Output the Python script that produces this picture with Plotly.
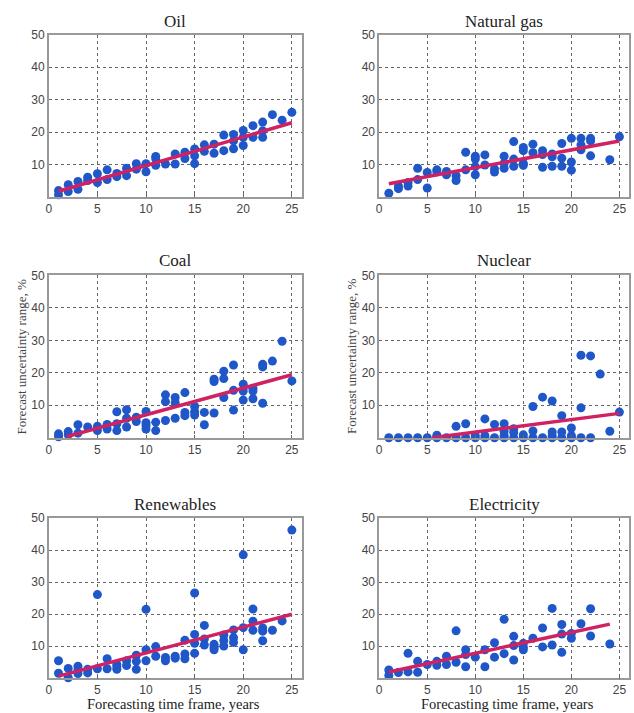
import plotly.graph_objects as go

# ---------------- data ----------------
oil_x = [1,1,2,2,3,3,4,4,5,5,6,6,7,7,8,8,9,9,10,10,11,11,11,12,13,13,14,14,15,15,15,16,16,17,17,18,18,19,19,19,20,20,20,21,21,22,22,22,23,24,25]
oil_y = [2.0,0.7,3.8,1.7,4.8,2.4,6.1,5.1,7.2,4.5,8.4,5.4,7.3,6.3,8.9,6.6,10.3,8.6,10.3,7.8,12.5,11.8,9.8,10.2,13.3,10.2,13.8,11.9,14.8,12.7,10.3,16.1,14.1,16.3,13.5,19.1,14.3,19.3,17.3,14.9,20.5,18.4,15.9,22.0,18.4,23.1,20.4,18.4,25.4,23.7,26.1]
oil_trend_x = [1, 25]
oil_trend_y = [1.8, 22.9]

gas_x = [1,2,2,3,3,4,4,5,5,6,6,7,7,8,8,9,9,10,10,10,10,11,11,12,12,13,13,13,14,14,14,15,15,15,15,16,16,17,17,17,18,18,18,19,19,19,20,20,20,21,21,21,22,22,22,24,25]
gas_y = [1.2,3.4,2.6,4.5,3.4,8.9,5.4,7.6,2.8,8.4,7.8,7.9,6.9,6.6,5.1,13.8,8.4,12.6,11.7,9.4,6.9,13.0,9.9,8.7,7.7,12.6,10.4,8.9,17.1,11.7,9.5,15.3,14.3,10.4,9.8,16.3,13.7,14.3,13.1,9.2,13.3,12.4,9.5,16.5,12.0,9.5,18.1,10.8,8.3,18.1,16.1,14.6,18.1,17.3,12.7,11.5,18.6]
gas_trend_x = [1, 25]
gas_trend_y = [4.1, 17.3]

coal_x = [1,1,2,2,3,3,4,5,5,6,6,7,7,7,8,8,8,9,9,10,10,10,10,11,11,12,12,12,13,13,13,14,14,14,15,15,15,16,16,17,17,17,18,18,18,19,19,19,20,20,20,21,21,21,22,22,22,23,24,25]
coal_y = [1.2,0.3,1.9,0.9,4.0,1.4,3.3,3.5,2.2,4.1,2.7,8.0,4.3,2.2,8.6,6.0,3.3,6.3,5.0,8.1,4.6,3.8,2.7,4.8,2.2,13.2,11.1,5.3,12.4,10.8,6.0,13.9,7.8,6.8,9.6,8.0,7.0,7.8,4.0,18.0,17.3,7.6,20.5,18.2,12.4,22.4,14.6,8.5,16.5,14.4,11.6,15.2,14.4,12.0,22.6,21.8,10.6,23.6,29.7,17.5]
coal_trend_x = [1.8, 25]
coal_trend_y = [0.3, 19.4]

nuc_x = [1,2,3,4,5,6,6,7,8,8,9,9,10,10,11,11,11,12,12,13,13,13,13,14,14,14,15,15,16,16,16,17,17,18,18,18,18,19,19,19,20,20,20,21,21,21,22,22,23,24,25]
nuc_y = [0,0,0,0,0,0,0.8,0,0,3.5,0,4.3,0,0.6,0,0.6,5.8,0,4.1,0,4.3,2.0,0.6,0,2.8,1.6,0,0.9,0,2.1,9.6,0,12.5,0,1.8,11.3,0.6,0,1.8,6.8,0,0.6,3.0,0,9.2,25.4,0,25.2,19.6,2.0,7.9]
nuc_trend_x = [5.5, 25]
nuc_trend_y = [0.0, 7.5]

ren_x = [1,1,2,2,3,3,3,4,4,5,5,6,6,7,7,7,8,8,9,9,9,10,10,10,11,11,12,12,13,13,14,14,14,15,15,15,15,16,16,16,17,17,17,18,18,18,19,19,19,20,20,20,21,21,21,22,22,22,23,24,25]
ren_y = [5.5,1.6,3.1,0.2,3.8,2.6,1.5,2.8,1.7,26.1,3.0,6.1,3.0,4.3,3.6,2.8,5.5,4.0,7.2,5.3,2.8,21.5,8.9,5.5,9.9,6.9,6.5,5.5,6.9,6.3,11.9,7.6,6.1,26.6,13.7,10.9,7.8,16.5,12.3,10.4,10.6,9.6,8.9,13.5,11.8,10.1,15.1,12.7,11.2,38.5,15.8,8.9,21.6,17.8,15.0,15.7,14.7,11.7,15.0,17.9,46.2]
ren_trend_x = [1, 25]
ren_trend_y = [0.7, 20.0]

ele_x = [1,1,2,3,3,4,4,5,6,6,7,7,8,8,9,9,9,10,11,11,12,12,13,13,14,14,14,15,15,15,16,17,17,18,18,19,19,19,20,20,21,22,22,24]
ele_y = [2.6,0.9,1.8,7.8,2.0,5.3,1.9,4.3,5.3,4.1,6.9,4.3,14.8,5.0,8.9,7.4,3.6,6.6,8.9,3.6,11.1,6.6,18.4,7.7,13.1,10.2,5.7,10.9,9.7,8.9,12.5,15.7,9.8,21.8,10.4,16.8,13.8,8.1,14.0,12.5,17.0,21.7,13.2,10.7]
ele_trend_x = [1, 24]
ele_trend_y = [2.0, 16.9]

titles = ["Oil", "Natural gas", "Coal", "Nuclear", "Renewables", "Electricity"]
x_ticks = [0, 5, 10, 15, 20, 25]
y_ticks = [10, 20, 30, 40, 50]
y_title = "Forecast uncertainty range, %"
x_title = "Forecasting time frame, years"

panels = [
    (oil_x, oil_y, oil_trend_x, oil_trend_y),
    (gas_x, gas_y, gas_trend_x, gas_trend_y),
    (coal_x, coal_y, coal_trend_x, coal_trend_y),
    (nuc_x, nuc_y, nuc_trend_x, nuc_trend_y),
    (ren_x, ren_y, ren_trend_x, ren_trend_y),
    (ele_x, ele_y, ele_trend_x, ele_trend_y),
]

# ---------------- layout ----------------
W, H = 634, 713
col_px = [(46, 300), (378, 629)]
row_px = [(28, 192), (271, 435), (516, 678)]
title_gap = [13, 15, 14]

MARKER = "#1f56c8"
LINE = "#d02262"
TICKFONT = dict(family="Liberation Sans, Arial, sans-serif", size=12, color="#444")
SERIF = "Liberation Serif, Times New Roman, serif"

fig = go.Figure()
layout = dict(width=W, height=H, margin=dict(l=0, r=0, t=0, b=0),
              paper_bgcolor="white", plot_bgcolor="white", showlegend=False)
annotations = []

for i, (px_, py_, tx, ty) in enumerate(panels):
    r, c = divmod(i, 2)
    n = i + 1
    xa = "xaxis" if n == 1 else f"xaxis{n}"
    ya = "yaxis" if n == 1 else f"yaxis{n}"
    xr = "x" if n == 1 else f"x{n}"
    yr = "y" if n == 1 else f"y{n}"
    x0, x1 = col_px[c]
    y0, y1 = row_px[r]
    layout[xa] = dict(domain=[x0 / W, x1 / W], anchor=yr, range=[0, 26],
                      tickvals=x_ticks, tickfont=TICKFONT,
                      showgrid=True, gridcolor="#666", griddash="dot", gridwidth=1,
                      showline=True, linecolor="#999", linewidth=1.5, mirror=True,
                      ticks="inside", ticklen=3, tickcolor="#666", zeroline=False)
    layout[ya] = dict(domain=[1 - y1 / H, 1 - y0 / H], anchor=xr, range=[0, 50],
                      tickvals=y_ticks, tickfont=TICKFONT,
                      showgrid=True, gridcolor="#666", griddash="dot", gridwidth=1,
                      showline=True, linecolor="#999", linewidth=1.5, mirror=True,
                      ticks="inside", ticklen=3, tickcolor="#666", zeroline=False)
    fig.add_trace(go.Scatter(x=px_, y=py_, mode="markers", xaxis=xr, yaxis=yr,
                             marker=dict(color=MARKER, size=9, line=dict(width=0)),
                             cliponaxis=False))
    fig.add_trace(go.Scatter(x=tx, y=ty, mode="lines", xaxis=xr, yaxis=yr,
                             line=dict(color=LINE, width=3.5)))
    annotations.append(dict(text=titles[i], x=(x0 + x1) / 2 / W,
                            y=1 - (y0 - title_gap[r]) / H,
                            xref="paper", yref="paper", showarrow=False,
                            font=dict(family=SERIF, size=17, color="#222"),
                            xanchor="center", yanchor="middle"))

# y-axis titles (middle row)
for xp in (19, 350):
    annotations.append(dict(text=y_title, x=xp / W, y=1 - 353 / H, xref="paper", yref="paper",
                            showarrow=False, textangle=-90,
                            font=dict(family=SERIF, size=13, color="#444"),
                            xanchor="center", yanchor="middle"))
# x-axis titles (bottom row)
for xp in (171, 507):
    annotations.append(dict(text=x_title, x=xp / W, y=0, xref="paper", yref="paper",
                            showarrow=False, borderpad=0,
                            font=dict(family=SERIF, size=14.5, color="#222"),
                            xanchor="center", yanchor="bottom"))

layout["annotations"] = annotations
fig.update_layout(**layout)
fig.write_html("out.html", config={"displayModeBar": False},
               post_script="document.body.style.margin='0';document.body.style.overflow='hidden';")
